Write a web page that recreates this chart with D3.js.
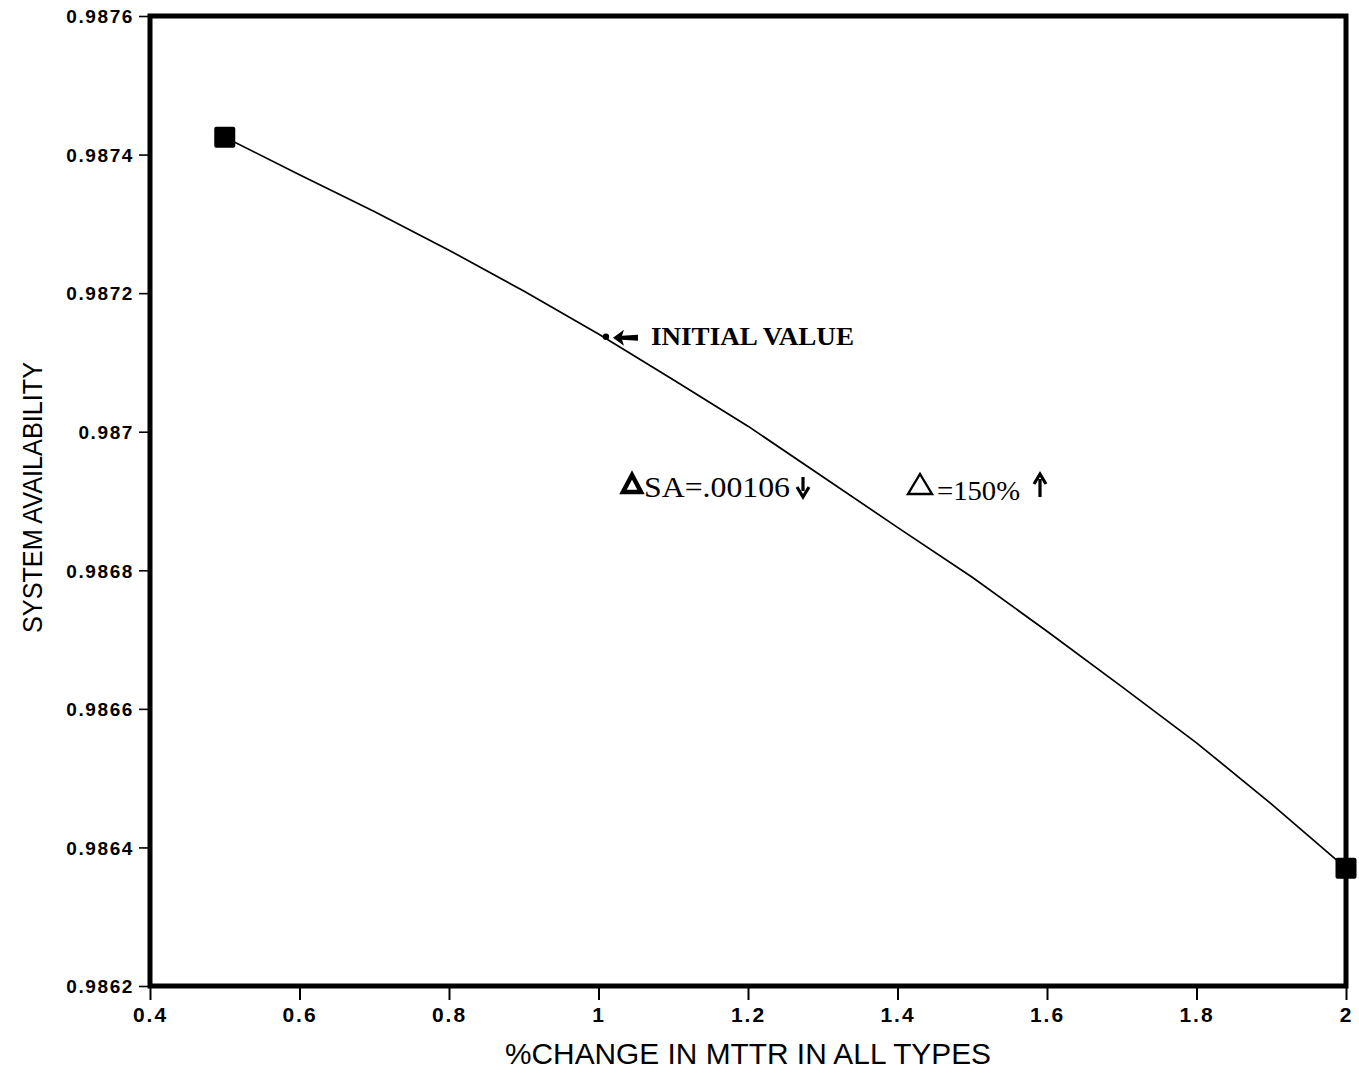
<!DOCTYPE html>
<html>
<head>
<meta charset="utf-8">
<script src="https://cdn.jsdelivr.net/npm/d3@7/dist/d3.min.js"></script>
<style>
  html, body { margin: 0; padding: 0; background: #fff; }
  svg { display: block; }
</style>
</head>
<body>
<svg id="chart" width="1359" height="1074"></svg>
<script>
// MTTR multiplier (fraction of base value) applied to all equipment types
const mttrFactor = [0.5, 0.6, 0.7, 0.8, 0.9, 1.0, 1.1, 1.2, 1.3, 1.4, 1.5, 1.6, 1.7, 1.8, 1.9, 2.0];
// Resulting system availability
const availability = [0.987425, 0.987371, 0.987318, 0.987262, 0.987203, 0.987141, 0.987075, 0.987008,
                      0.986935, 0.986862, 0.98679, 0.986712, 0.986632, 0.986551, 0.986463, 0.98637];
// End points of the sweep, drawn as square markers
const endFactor = [0.5, 2.0];
const endAvail = [0.987425, 0.98637];
// Base-case operating point
const initialFactor = [1.01];
const initialAvail = [0.987137];

const xTicks = [0.4, 0.6, 0.8, 1.0, 1.2, 1.4, 1.6, 1.8, 2.0];
const yTicks = [0.9862, 0.9864, 0.9866, 0.9868, 0.987, 0.9872, 0.9874, 0.9876];

const svg = d3.select("#chart");
const plotLeft = 150, plotRight = 1346, plotTop = 16, plotBottom = 986;

const x = d3.scaleLinear().domain([0.4, 2.0]).range([plotLeft, plotRight]);
const y = d3.scaleLinear().domain([0.9862, 0.9876]).range([plotBottom, plotTop]);

// Y axis ticks and labels
const yAxis = d3.axisLeft(y).tickValues(yTicks).tickSize(9).tickPadding(5)
  .tickFormat(d => String(+d.toFixed(4)));
const gy = svg.append("g").attr("transform", `translate(${plotLeft - 2},0)`).call(yAxis);
gy.attr("font-size", null).attr("font-family", null);
gy.select(".domain").remove();
gy.selectAll(".tick line").attr("stroke", "#000").attr("stroke-width", 1.6);
gy.selectAll(".tick text")
  .attr("fill", "#000")
  .attr("dy", "0.36em")
  .style("font-family", "'Liberation Sans', Arial, sans-serif")
  .style("font-weight", "bold")
  .style("font-size", "19px")
  .style("letter-spacing", "1.6px");

// X axis ticks and labels
const xAxis = d3.axisBottom(x).tickValues(xTicks).tickSize(14).tickPadding(7)
  .tickFormat(d => String(+d.toFixed(1)));
const gx = svg.append("g").attr("transform", `translate(0,${plotBottom})`).call(xAxis);
gx.attr("font-size", null).attr("font-family", null);
gx.select(".domain").remove();
gx.selectAll(".tick line").attr("stroke", "#000").attr("stroke-width", 2);
gx.selectAll(".tick text")
  .attr("fill", "#000")
  .style("font-family", "'Liberation Sans', Arial, sans-serif")
  .style("font-weight", "bold")
  .style("font-size", "21px")
  .style("letter-spacing", "2px");

// Plot frame
svg.append("rect")
  .attr("x", plotLeft).attr("y", plotTop)
  .attr("width", plotRight - plotLeft).attr("height", plotBottom - plotTop)
  .attr("fill", "none").attr("stroke", "#000").attr("stroke-width", 5);

// Availability curve
const pts = mttrFactor.map((f, i) => [f, availability[i]]);
svg.append("path")
  .datum(pts)
  .attr("fill", "none")
  .attr("stroke", "#000")
  .attr("stroke-width", 1.7)
  .attr("d", d3.line().x(d => x(d[0])).y(d => y(d[1])));

// Square end markers
const sq = 21;
svg.selectAll("rect.end")
  .data(endFactor.map((f, i) => [f, endAvail[i]]))
  .enter().append("rect")
  .attr("class", "end")
  .attr("x", d => x(d[0]) - sq / 2)
  .attr("y", d => y(d[1]) - sq / 2)
  .attr("width", sq).attr("height", sq)
  .attr("rx", 2)
  .attr("fill", "#000");

// Initial value dot
svg.selectAll("circle.init")
  .data(initialFactor.map((f, i) => [f, initialAvail[i]]))
  .enter().append("circle")
  .attr("class", "init")
  .attr("cx", d => x(d[0]))
  .attr("cy", d => y(d[1]))
  .attr("r", 3.2)
  .attr("fill", "#000");

// Annotations
const ix = x(initialFactor[0]), iy = y(initialAvail[0]);
const typewriter = "'Liberation Serif', 'DejaVu Serif', serif";

// bold left arrow pointing at the initial value
svg.append("path")
  .attr("d", `M${ix + 7},${iy + 1} l11,-8 l-2,6 l16,-1 l0,6 l-16,-1 l2,6 z`)
  .attr("fill", "#000");
svg.append("text")
  .attr("x", ix + 45).attr("y", iy + 8)
  .attr("textLength", 203).attr("lengthAdjust", "spacingAndGlyphs")
  .style("font-family", typewriter)
  .style("font-weight", "bold")
  .style("font-size", "25px")
  .text("INITIAL VALUE");

// ΔSA = .00106 ↓  (heavy delta)
svg.append("path")
  .attr("d", "M632,475 L641,492 L623,492 Z")
  .attr("fill", "none").attr("stroke", "#000").attr("stroke-width", 4.5).attr("stroke-linejoin", "miter");
svg.append("text")
  .attr("x", 644).attr("y", 497)
  .attr("textLength", 146).attr("lengthAdjust", "spacingAndGlyphs")
  .style("font-family", typewriter)
  .style("font-size", "29px")
  .text("SA=.00106");
// down arrow
svg.append("path")
  .attr("d", "M803,477 L803,491 M797,487 L803,497 L809,487")
  .attr("fill", "none").attr("stroke", "#000").attr("stroke-width", 3.2)
  .attr("stroke-linejoin", "miter").attr("stroke-linecap", "butt");

// Δ = 150% ↑  (light delta)
svg.append("path")
  .attr("d", "M920,474 L932,494 L908,494 Z")
  .attr("fill", "none").attr("stroke", "#000").attr("stroke-width", 2.4);
svg.append("text")
  .attr("x", 937).attr("y", 500)
  .attr("textLength", 83).attr("lengthAdjust", "spacingAndGlyphs")
  .style("font-family", typewriter)
  .style("font-size", "27px")
  .text("=150%");
// up arrow
svg.append("path")
  .attr("d", "M1040,497 L1040,479 M1034,484 L1040,474 L1046,484")
  .attr("fill", "none").attr("stroke", "#000").attr("stroke-width", 3.2)
  .attr("stroke-linejoin", "miter").attr("stroke-linecap", "butt");

// Axis titles
svg.append("text")
  .attr("x", 505).attr("y", 1064)
  .attr("textLength", 486).attr("lengthAdjust", "spacingAndGlyphs")
  .style("font-family", "'Liberation Sans', Arial, sans-serif")
  .style("font-size", "29px")
  .text("%CHANGE IN MTTR IN ALL TYPES");

svg.append("text")
  .attr("transform", "translate(42,633) rotate(-90)")
  .attr("textLength", 271).attr("lengthAdjust", "spacingAndGlyphs")
  .style("font-family", "'Liberation Sans', Arial, sans-serif")
  .style("font-size", "27px")
  .text("SYSTEM AVAILABILITY");
</script>
</body>
</html>
